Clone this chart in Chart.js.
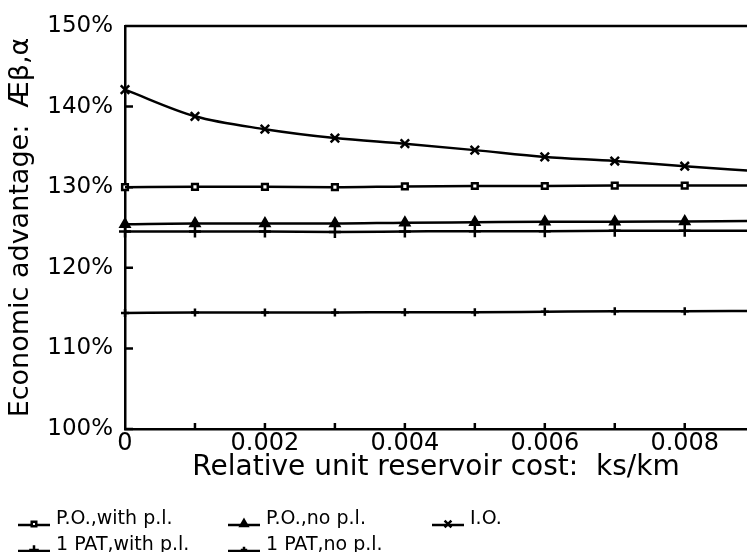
<!DOCTYPE html>
<html>
<head>
<meta charset="utf-8">
<script src="https://cdn.jsdelivr.net/npm/chart.js@4"></script>
<style>
  html, body { margin: 0; padding: 0; background: #fff; }
  #wrap { width: 747px; height: 552px; position: relative; }
</style>
</head>
<body>
<div id="wrap"><canvas id="grafico"></canvas></div>
<script>
// cost values (ks/km) where each curve was computed
const costos = [0, 0.001, 0.002, 0.003, 0.004, 0.005, 0.006, 0.007, 0.008, 0.009];

// economic advantage in %
const poConPl = [130.0, 130.05, 130.05, 130.0, 130.1, 130.15, 130.15, 130.2, 130.2, 130.2];
const poSinPl = [125.4, 125.5, 125.5, 125.5, 125.6, 125.65, 125.7, 125.7, 125.75, 125.8];
const io = [142.1, 138.8, 137.2, 136.1, 135.4, 134.6, 133.75, 133.25, 132.6, 132.0];
const patConPl = [124.5, 124.5, 124.5, 124.45, 124.5, 124.55, 124.55, 124.6, 124.6, 124.6];
const patSinPl = [114.4, 114.45, 114.45, 114.45, 114.5, 114.5, 114.55, 114.6, 114.6, 114.65];

const nombres = ['P.O.,with p.l.', 'P.O.,no p.l.', 'I.O.', '1 PAT,with p.l.', '1 PAT,no p.l.'];

const xTicks = [0, 0.002, 0.004, 0.006, 0.008];
const xTickLabels = ['0', '0.002', '0.004', '0.006', '0.008'];
const yTicks = [100, 110, 120, 130, 140, 150];
const yTickLabels = ['100%', '110%', '120%', '130%', '140%', '150%'];

const fuente = 'DejaVu Sans';

function puntos(valores) {
    return costos.map(function(c, i) { return { x: c, y: valores[i] }; });
}

function serie(label, valores, estilo, radio, relleno) {
    return {
        label: label,
        data: puntos(valores),
        borderColor: '#000',
        borderWidth: 2.5,
        pointStyle: estilo,
        pointRadius: radio,
        pointBorderWidth: 2.5,
        pointBorderColor: '#000',
        pointBackgroundColor: relleno,
        tension: 0.3,
        cubicInterpolationMode: 'monotone',
        clip: false
    };
}

// inner tick marks, top border and the custom legend under the axis
const marcas = {
    id: 'marcas',
    afterDraw: function(chart) {
        const ctx = chart.ctx;
        const area = chart.chartArea;
        const xs = chart.scales.x;
        const ys = chart.scales.y;
        ctx.save();
        ctx.strokeStyle = '#000';
        ctx.lineWidth = 2.5;
        ctx.beginPath();
        ctx.moveTo(area.left, area.top);
        ctx.lineTo(area.right, area.top);
        yTicks.forEach(function(v) {
            const py = ys.getPixelForValue(v);
            ctx.moveTo(area.left, py);
            ctx.lineTo(area.left + 8, py);
        });
        costos.forEach(function(c) {
            const px = xs.getPixelForValue(c);
            if (px > area.left && px < area.right) {
                ctx.moveTo(px, area.bottom);
                ctx.lineTo(px, area.bottom - 6);
            }
        });
        ctx.stroke();

        // legend
        const columnas = [18, 228, 432];
        const filas = [519, 545];
        ctx.font = '19px ' + fuente;
        ctx.textBaseline = 'middle';
        ctx.textAlign = 'left';
        chart.data.datasets.forEach(function(ds, i) {
            const x = columnas[i % 3];
            const y = filas[Math.floor(i / 3)];
            ctx.beginPath();
            ctx.moveTo(x, y + 6);
            ctx.lineTo(x + 32, y + 6);
            ctx.lineWidth = 2.5;
            ctx.stroke();
            ctx.fillStyle = ds.pointBackgroundColor;
            Chart.helpers.drawPoint(ctx, {
                pointStyle: ds.pointStyle,
                radius: ds.pointRadius * 0.8,
                borderWidth: 2
            }, x + 16, y + 5);
            ctx.fillStyle = '#000';
            ctx.fillText(ds.label, x + 38, y);
        });
        ctx.restore();
    }
};

const chart = new Chart(document.getElementById('grafico'), {
    type: 'line',
    data: {
        datasets: [
            serie(nombres[0], poConPl, 'rect', 4, '#fff'),
            serie(nombres[1], poSinPl, 'triangle', 5, '#000'),
            serie(nombres[2], io, 'crossRot', 6, '#000'),
            serie(nombres[3], patConPl, 'cross', 6, '#000'),
            serie(nombres[4], patSinPl, 'cross', 4, '#000')
        ]
    },
    options: {
        responsive: true,
        maintainAspectRatio: false,
        animation: false,
        layout: { autoPadding: false, padding: { left: 0, right: 0, top: 26, bottom: 67 } },
        plugins: {
            legend: { display: false },
            tooltip: { enabled: false }
        },
        scales: {
            x: {
                type: 'linear',
                min: 0,
                max: 0.00889,
                afterBuildTicks: function(scale) {
                    scale.ticks = xTicks.map(function(v) { return { value: v }; });
                },
                afterFit: function(scale) {
                    scale.height = 56;
                    scale.paddingLeft = 0;
                    scale.paddingRight = 0;
                },
                grid: { display: false, drawTicks: false },
                border: { display: true, color: '#000', width: 2.5 },
                ticks: {
                    color: '#000',
                    padding: 0,
                    maxRotation: 0,
                    font: { family: fuente, size: 24 },
                    callback: function(v) { return xTickLabels[xTicks.indexOf(v)]; }
                },
                title: {
                    display: true,
                    text: 'Relative unit reservoir cost:  ks/km',
                    color: '#000',
                    padding: { top: -10, bottom: 0 },
                    font: { family: fuente, size: 28 }
                }
            },
            y: {
                min: 100,
                max: 150,
                afterBuildTicks: function(scale) {
                    scale.ticks = yTicks.map(function(v) { return { value: v }; });
                },
                afterFit: function(scale) { scale.width = 125; },
                grid: { display: false, drawTicks: false },
                border: { display: true, color: '#000', width: 2.5 },
                ticks: {
                    color: '#000',
                    padding: 12,
                    font: { family: fuente, size: 23 },
                    callback: function(v) { return yTickLabels[yTicks.indexOf(v)]; }
                },
                title: {
                    display: true,
                    text: 'Economic advantage:  Æβ,α',
                    color: '#000',
                    padding: { top: 5, bottom: 0 },
                    font: { family: fuente, size: 27 }
                }
            }
        }
    },
    plugins: [marcas]
});
</script>
</body>
</html>
